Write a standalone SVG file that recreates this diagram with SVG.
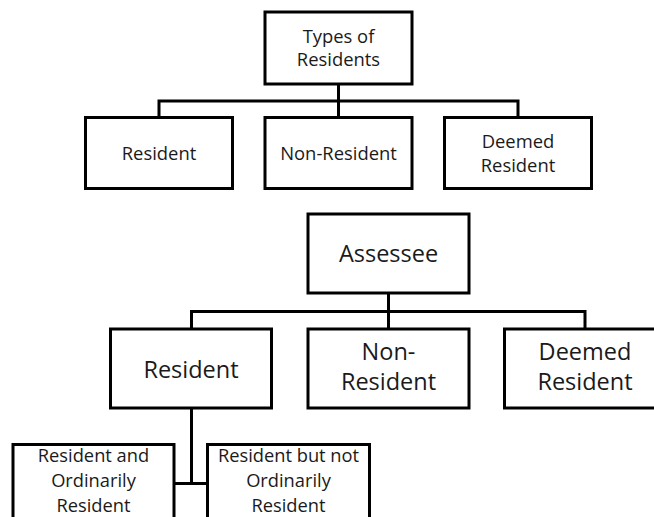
<svg xmlns="http://www.w3.org/2000/svg" width="654" height="517" viewBox="0 0 654 517">
<style>
.box{fill:#fff;stroke:#000;stroke-width:3}
.ln{fill:none;stroke:#000;stroke-width:3}
text{font-family:"Open Sans","Noto Sans","Liberation Sans",sans-serif;fill:#1a1a1a;text-anchor:middle}
.s1{font-size:18.4px}
.s2{font-size:23.5px}
.s3{font-size:18.3px}
</style>
<rect width="654" height="517" fill="#fff"/>
<g id="connectors">
<path class="ln" d="M338.5 85V101M159 117V101H518V117M338.5 101V117"/>
<path class="ln" d="M388.5 294V311.5M191.5 328V311.5H585V328M388.5 311.5V328"/>
<path class="ln" d="M191.5 409V483.5M175 483.5H207"/>
</g>
<g id="types">
<rect class="box" x="265" y="12" width="147" height="72"/>
<text class="s1" x="338.5" y="43">Types of</text>
<text class="s1" x="338.5" y="66">Residents</text>
</g>
<g id="resident1">
<rect class="box" x="85.5" y="117.5" width="147" height="71"/>
<text class="s1" x="159" y="159.5">Resident</text>
</g>
<g id="nonresident1">
<rect class="box" x="265" y="117.5" width="147" height="71"/>
<text class="s1" x="338.5" y="159.5">Non-Resident</text>
</g>
<g id="deemed1">
<rect class="box" x="444.5" y="117.5" width="147" height="71"/>
<text class="s1" x="518" y="147.5">Deemed</text>
<text class="s1" x="518" y="171.5">Resident</text>
</g>
<g id="assessee">
<rect class="box" x="308" y="214" width="161" height="79"/>
<text class="s2" x="388.5" y="261.5">Assessee</text>
</g>
<g id="resident2">
<rect class="box" x="110.5" y="329" width="161" height="79"/>
<text class="s2" x="191" y="377.5">Resident</text>
</g>
<g id="nonresident2">
<rect class="box" x="308" y="329" width="161" height="79"/>
<text class="s2" x="388.5" y="360">Non-</text>
<text class="s2" x="388.5" y="390">Resident</text>
</g>
<g id="deemed2">
<rect class="box" x="504.5" y="329" width="161" height="79"/>
<text class="s2" x="585" y="360">Deemed</text>
<text class="s2" x="585" y="390">Resident</text>
</g>
<g id="ordinarily">
<rect class="box" x="13" y="444.5" width="161" height="100"/>
<text class="s3" x="93.5" y="462">Resident and</text>
<text class="s3" x="93.5" y="487">Ordinarily</text>
<text class="s3" x="93.5" y="512">Resident</text>
</g>
<g id="notordinarily">
<rect class="box" x="207.5" y="444.5" width="162" height="100"/>
<text class="s3" x="288.5" y="462">Resident but not</text>
<text class="s3" x="288.5" y="487">Ordinarily</text>
<text class="s3" x="288.5" y="512">Resident</text>
</g>
</svg>
